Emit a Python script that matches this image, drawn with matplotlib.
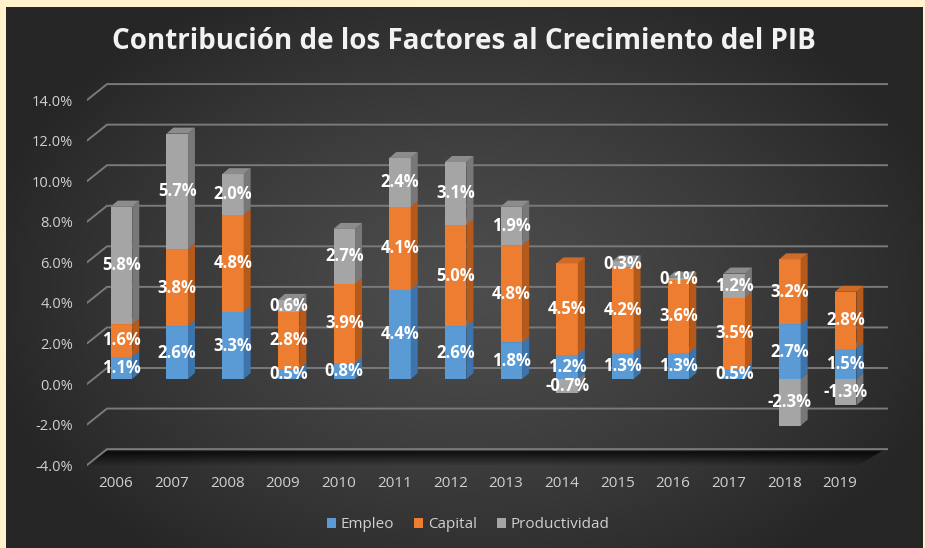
import numpy as np
import matplotlib
matplotlib.use('Agg')
from matplotlib import pyplot as plt
from matplotlib.patches import Polygon, Patch

# data (contribution in percentage points)
years = ['2006', '2007', '2008', '2009', '2010', '2011', '2012',
         '2013', '2014', '2015', '2016', '2017', '2018', '2019']
empleo = [1.1, 2.6, 3.3, 0.5, 0.8, 4.4, 2.6, 1.8, 1.2, 1.3, 1.3, 0.5, 2.7, 1.5]
capital = [1.6, 3.8, 4.8, 2.8, 3.9, 4.1, 5.0, 4.8, 4.5, 4.2, 3.6, 3.5, 3.2, 2.8]
productividad = [5.8, 5.7, 2.0, 0.6, 2.7, 2.4, 3.1, 1.9, -0.7, 0.3, 0.1, 1.2, -2.3, -1.3]
y_ticks = [-4, -2, 0, 2, 4, 6, 8, 10, 12, 14]

series_names = ['Empleo', 'Capital', 'Productividad']
series_vals = [empleo, capital, productividad]
# front, side, top shades
series_cols = [('#5B9BD5', '#3C74AB', '#4A86C0'),
               ('#ED7D31', '#B65A1C', '#D06A27'),
               ('#A5A5A5', '#787878', '#8C8C8C')]

plt.rcParams['font.family'] = ['Open Sans', 'DejaVu Sans']

W, H = 925, 548
fig = plt.figure(figsize=(W / 100, H / 100), dpi=100)
fig.patch.set_facecolor('#FFF2CC')

# dark radial background
bg = fig.add_axes([6 / W, 0, (923 - 6) / W, (H - 7) / H])
gx, gy = np.meshgrid(np.linspace(6, 923, 400), np.linspace(7, 548, 240))
r = np.sqrt(((gx - 470) / 500) ** 2 + ((gy - 290) / 340) ** 2)
shade = 0.30 - 0.15 * np.clip(r, 0, 1) ** 1.3
bg.imshow(np.dstack([shade] * 3), aspect='auto', extent=(0, 1, 0, 1), origin='upper')
bg.set_axis_off()

# main axes, pixel box 87..888 x 70..470
PX_CAT, PX_PCT = 55.7, 20.28
ax = fig.add_axes([87 / W, (H - 470) / H, (888 - 87) / W, 400 / H])
ax.set_facecolor('none')
XL, XR = (87 - 116) / PX_CAT, (888 - 116) / PX_CAT
YB, YT = (384 - 470) / PX_PCT, (384 - 70) / PX_PCT

# projection constants
WALL_X, WALL_Y = 20 / PX_CAT, 16 / PX_PCT      # back wall offset
PLANE_X, PLANE_Y = 5.5 / PX_CAT, 5 / PX_PCT    # bar plane offset
DEP_X, DEP_Y = 7 / PX_CAT, 6 / PX_PCT          # bar depth
BAR_W = 21.5 / PX_CAT

# back wall gridlines
for v in y_ticks:
    ax.plot([XL, XL + WALL_X, XR], [v, v + WALL_Y, v + WALL_Y],
            color='#7a7a7a', lw=1.4, zorder=1, solid_capstyle='round')

# floor shadow
fl = -4
grad = np.zeros((60, 1, 4))
grad[:, 0, 3] = np.concatenate([np.linspace(0.3, 0.75, 8), np.linspace(0.75, 0.0, 52)])
im = ax.imshow(grad, aspect='auto', extent=(XL, XR, fl - 0.05, fl + WALL_Y - 0.08),
               origin='upper', zorder=0.9)
clip = Polygon([(XL, fl), (XL + WALL_X, fl + WALL_Y - 0.08), (XR - 0.1, fl + WALL_Y - 0.08),
                (XR - WALL_X - 0.2, fl - 0.05)], closed=True, transform=ax.transData)
im.set_clip_path(clip)

x = np.arange(len(years))
pos_base = np.zeros(len(years))
neg_base = np.zeros(len(years))

for k, (name, vals, cols) in enumerate(zip(series_names, series_vals, series_cols)):
    vals = np.array(vals, dtype=float)
    bottoms = np.where(vals >= 0, pos_base, neg_base + vals)
    z = 3 + k * 0.1
    ax.bar(x + PLANE_X, np.abs(vals), bottom=bottoms + PLANE_Y, width=BAR_W,
           color=cols[0], zorder=z, label=name, linewidth=0)
    for i in range(len(years)):
        y0 = bottoms[i] + PLANE_Y
        y1 = y0 + abs(vals[i])
        xl = x[i] + PLANE_X - BAR_W / 2
        xr = x[i] + PLANE_X + BAR_W / 2
        ax.add_patch(Polygon([(xr, y0), (xr, y1), (xr + DEP_X, y1 + DEP_Y), (xr + DEP_X, y0 + DEP_Y)],
                             closed=True, facecolor=cols[1], edgecolor='none', zorder=z))
        if vals[i] > 0:
            ax.add_patch(Polygon([(xl, y1), (xr, y1), (xr + DEP_X, y1 + DEP_Y), (xl + DEP_X, y1 + DEP_Y)],
                                 closed=True, facecolor=cols[2], edgecolor='none', zorder=z))
        ax.text(x[i] + PLANE_X, (y0 + y1) / 2, f'{vals[i]:.1f}%', ha='center', va='center',
                color='white', fontsize=12, fontweight='bold', zorder=10)
    pos_base = pos_base + np.where(vals >= 0, vals, 0)
    neg_base = neg_base + np.where(vals < 0, vals, 0)

ax.set_xlim(XL, XR)
ax.set_ylim(YB, YT)
ax.set_yticks(y_ticks)
ax.set_yticklabels([f'{v:.1f}%' for v in y_ticks])
ax.set_xticks(x)
ax.set_xticklabels(years)
ax.tick_params(axis='y', length=0, pad=10, labelsize=10.5, labelcolor='#d0d0d0')
ax.tick_params(axis='x', length=0, pad=4, labelsize=11, labelcolor='#d0d0d0')
for s in ax.spines.values():
    s.set_visible(False)

fig.text(464 / W, 1 - 49 / H, 'Contribución de los Factores al Crecimiento del PIB',
         ha='center', va='baseline', color='#f2f2f2', fontsize=20, fontweight='bold')

handles = [Patch(facecolor=c[0], label=n) for n, c in zip(series_names, series_cols)]
leg = fig.legend(handles=handles, loc='center', bbox_to_anchor=(468 / W, 1 - 525 / H), ncol=3,
                 frameon=False, fontsize=11, handlelength=0.6, handleheight=0.6,
                 handletextpad=0.3, columnspacing=1.3)
for t in leg.get_texts():
    t.set_color('#d0d0d0')

fig.savefig('out.png', dpi=100, facecolor=fig.get_facecolor())
